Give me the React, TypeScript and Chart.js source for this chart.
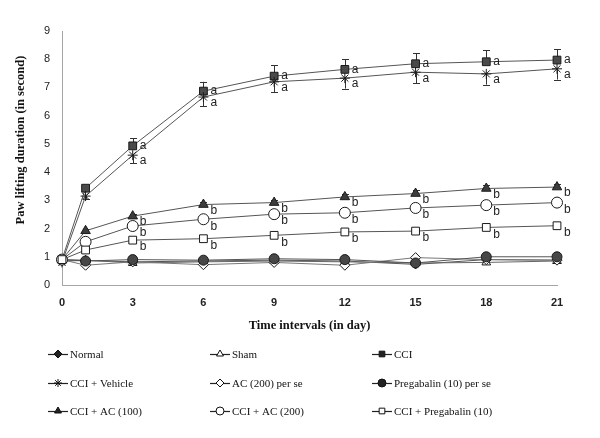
import React, { useEffect, useRef } from "react";
import { Chart, registerables } from "chart.js";
import * as helpers from "chart.js/helpers";

Chart.register(...registerables);

const days = [0, 1, 3, 6, 9, 12, 15, 18, 21];
const xTicks = [0, 3, 6, 9, 12, 15, 18, 21];

const seriesNames = [
  "Normal",
  "Sham",
  "CCI",
  "CCI + Vehicle",
  "AC (200) per se",
  "Pregabalin (10) per se",
  "CCI + AC (100)",
  "CCI + AC (200)",
  "CCI + Pregabalin (10)",
];

const normal = [0.85, 0.87, 0.82, 0.85, 0.88, 0.85, 0.73, 0.9, 0.88];
const sham = [0.9, 0.88, 0.78, 0.82, 0.85, 0.82, 0.78, 0.8, 0.85];
const cci = [0.9, 3.43, 4.93, 6.87, 7.4, 7.64, 7.84, 7.91, 7.97];
const cciVehicle = [0.8, 3.15, 4.6, 6.66, 7.2, 7.33, 7.54, 7.48, 7.66];
const ac200PerSe = [0.9, 0.7, 0.82, 0.72, 0.8, 0.7, 0.97, 0.9, 0.88];
const pregPerSe = [0.9, 0.85, 0.9, 0.88, 0.93, 0.9, 0.78, 1.0, 1.0];
const cciAc100 = [0.9, 1.92, 2.44, 2.85, 2.92, 3.12, 3.24, 3.42, 3.47];
const cciAc200 = [0.9, 1.53, 2.09, 2.33, 2.51, 2.56, 2.73, 2.83, 2.92];
const cciPreg = [0.9, 1.24, 1.59, 1.64, 1.76, 1.88, 1.91, 2.04, 2.1];

// error bar sizes (SEM)
const cciErr = [0, 0.1, 0.27, 0.33, 0.38, 0.36, 0.37, 0.4, 0.39];
const cciVehicleErr = [0, 0.1, 0.28, 0.33, 0.36, 0.37, 0.39, 0.38, 0.38];
const cciAc100Err = [0, 0.05, 0.08, 0.1, 0.1, 0.1, 0.12, 0.12, 0.12];

// significance letters
const letterA = ["", "", "a", "a", "a", "a", "a", "a", "a"];
const letterB = ["", "", "b", "b", "b", "b", "b", "b", "b"];

const yTitle = "Paw lifting duration (in second)";
const xTitle = "Time intervals (in day)";

const seriesValues = [normal, sham, cci, cciVehicle, ac200PerSe, pregPerSe, cciAc100, cciAc200, cciPreg];

const DARK = "#3c3c3c";
const styles = [
  { pointStyle: "rectRot", radius: 4.5, fill: DARK, line: "#555" },
  { pointStyle: "triangle", radius: 5, fill: "#ffffff", line: "#666" },
  { pointStyle: "rect", radius: 5.5, fill: "#4a4a4a", line: "#555" },
  { pointStyle: "star", radius: 5, fill: DARK, line: "#555" },
  { pointStyle: "rectRot", radius: 5, fill: "#ffffff", line: "#777" },
  { pointStyle: "circle", radius: 5, fill: "#474747", line: "#555" },
  { pointStyle: "triangle", radius: 5.5, fill: DARK, line: "#555" },
  { pointStyle: "circle", radius: 5.5, fill: "#ffffff", line: "#555" },
  { pointStyle: "rect", radius: 5.5, fill: "#ffffff", line: "#555" },
];

const errorConfig: { [k: number]: { err: number[]; dir: string } } = {
  2: { err: cciErr, dir: "up" },
  3: { err: cciVehicleErr, dir: "down" },
  6: { err: cciAc100Err, dir: "up" },
};
const letterConfig: { [k: number]: { letters: string[]; dy: number } } = {
  2: { letters: letterA, dy: 0 },
  3: { letters: letterA, dy: 6 },
  6: { letters: letterB, dy: 6 },
  7: { letters: letterB, dy: 7 },
  8: { letters: letterB, dy: 7 },
};

const overlayPlugin = {
  id: "overlay",
  beforeDatasetsDraw(chart: any) {
    const ctx = chart.ctx;
    const xs = chart.scales.x;
    const ys = chart.scales.y;
    ctx.save();
    ctx.strokeStyle = "#333";
    ctx.lineWidth = 1;
    Object.keys(errorConfig).forEach((k) => {
      const idx = Number(k);
      const cfg = errorConfig[idx];
      const vals = seriesValues[idx];
      days.forEach((d, i) => {
        const e = cfg.err[i];
        if (!e) return;
        const px = Math.round(xs.getPixelForValue(d)) + 0.5;
        const y0 = ys.getPixelForValue(vals[i]);
        const y1 = ys.getPixelForValue(cfg.dir === "up" ? vals[i] + e : vals[i] - e);
        ctx.beginPath();
        ctx.moveTo(px, y0);
        ctx.lineTo(px, y1);
        ctx.moveTo(px - 3.5, Math.round(y1) + 0.5);
        ctx.lineTo(px + 3.5, Math.round(y1) + 0.5);
        ctx.stroke();
      });
    });
    ctx.restore();
  },
  afterDatasetsDraw(chart: any) {
    const ctx = chart.ctx;
    const xs = chart.scales.x;
    const ys = chart.scales.y;
    ctx.save();
    ctx.fillStyle = "#222";
    ctx.font = "12px 'Liberation Sans', Arial, sans-serif";
    ctx.textAlign = "left";
    ctx.textBaseline = "middle";
    Object.keys(letterConfig).forEach((k) => {
      const idx = Number(k);
      const cfg = letterConfig[idx];
      const vals = seriesValues[idx];
      days.forEach((d, i) => {
        const t = cfg.letters[i];
        if (!t) return;
        ctx.fillText(t, xs.getPixelForValue(d) + 7, ys.getPixelForValue(vals[i]) + cfg.dy);
      });
    });
    ctx.restore();
  },
  afterDraw(chart: any) {
    const ctx = chart.ctx;
    // y-axis title
    ctx.save();
    ctx.translate(21, 140);
    ctx.rotate(-Math.PI / 2);
    ctx.fillStyle = "#111";
    ctx.font = "bold 12.5px 'Liberation Serif', 'Times New Roman', serif";
    ctx.textAlign = "center";
    ctx.textBaseline = "middle";
    ctx.fillText(yTitle, 0, 0);
    ctx.restore();

    const colX = [48, 210, 372];
    const rowY = [354, 383, 411];
    ctx.save();
    seriesNames.forEach((name, i) => {
      const col = i % 3;
      const row = Math.floor(i / 3);
      const x0 = colX[col];
      const y = rowY[row];
      const st = styles[i];
      ctx.strokeStyle = "#222";
      ctx.lineWidth = 1.2;
      ctx.beginPath();
      ctx.moveTo(x0, y + 0.5);
      ctx.lineTo(x0 + 20, y + 0.5);
      ctx.stroke();
      ctx.lineWidth = 1;
      ctx.fillStyle = st.fill === "#ffffff" ? "#ffffff" : "#222";
      ctx.strokeStyle = "#111";
      helpers.drawPoint(ctx, { pointStyle: st.pointStyle, radius: 4, borderWidth: 1, rotation: 0 } as any, x0 + 10, y);
      ctx.fillStyle = "#111";
      ctx.font = "11px 'Liberation Serif', 'Times New Roman', serif";
      ctx.textAlign = "left";
      ctx.textBaseline = "middle";
      ctx.fillText(name, x0 + 22, y + 1);
    });
    ctx.restore();
  },
};

export default function App() {
  const canvasRef = useRef<HTMLCanvasElement | null>(null);

  useEffect(() => {
    document.body.style.margin = "0";
    const canvas = canvasRef.current;
    if (!canvas) return;
    const datasets = seriesNames.map((name, i) => {
      const st = styles[i];
      return {
        label: name,
        data: days.map((d, j) => ({ x: d, y: seriesValues[i][j] })),
        borderColor: st.line,
        borderWidth: 1,
        pointStyle: st.pointStyle,
        pointRadius: st.radius,
        pointBackgroundColor: st.fill,
        pointBorderColor: "#1a1a1a",
        pointBorderWidth: 1,
        fill: false,
        tension: 0,
        clip: false,
        order: seriesNames.length - i,
      };
    });
    const chart = new Chart(canvas, {
      type: "line",
      data: { datasets: datasets as any },
      options: {
        animation: false,
        responsive: false,
        maintainAspectRatio: false,
        layout: { padding: { left: 0, top: 31, right: 43, bottom: 105 } },
        plugins: {
          legend: { display: false },
          tooltip: { enabled: false },
        },
        scales: {
          x: {
            type: "linear",
            min: 0,
            max: 21,
            afterBuildTicks: (scale: any) => {
              scale.ticks = xTicks.map((v) => ({ value: v }));
            },
            afterFit: (scale: any) => {
              scale.height = 48;
            },
            grid: { display: false, drawTicks: false },
            border: { display: true, color: "#a6a6a6", width: 1 },
            ticks: {
              color: "#222",
              padding: 11,
              maxRotation: 0,
              font: { family: "'Liberation Sans', Arial, sans-serif", size: 11, weight: "bold" },
            },
            title: {
              display: true,
              text: xTitle,
              color: "#111",
              padding: { top: 6, bottom: 0 },
              font: { family: "'Liberation Serif', 'Times New Roman', serif", size: 12.5, weight: "bold" },
            },
          },
          y: {
            min: 0,
            max: 9,
            afterFit: (scale: any) => {
              scale.width = 62;
            },
            grid: { display: false, drawTicks: false },
            border: { display: true, color: "#a6a6a6", width: 1 },
            ticks: {
              stepSize: 1,
              color: "#222",
              padding: 12,
              font: { family: "'Liberation Sans', Arial, sans-serif", size: 11 },
            },
            title: { display: false },
          },
        },
      },
      plugins: [overlayPlugin],
    });
    return () => chart.destroy();
  }, []);

  return (
    <div style={{ position: "relative", width: 600, height: 438, background: "#fff" }}>
      <canvas ref={canvasRef} width={600} height={438} style={{ width: 600, height: 438, display: "block" }} />
    </div>
  );
}
